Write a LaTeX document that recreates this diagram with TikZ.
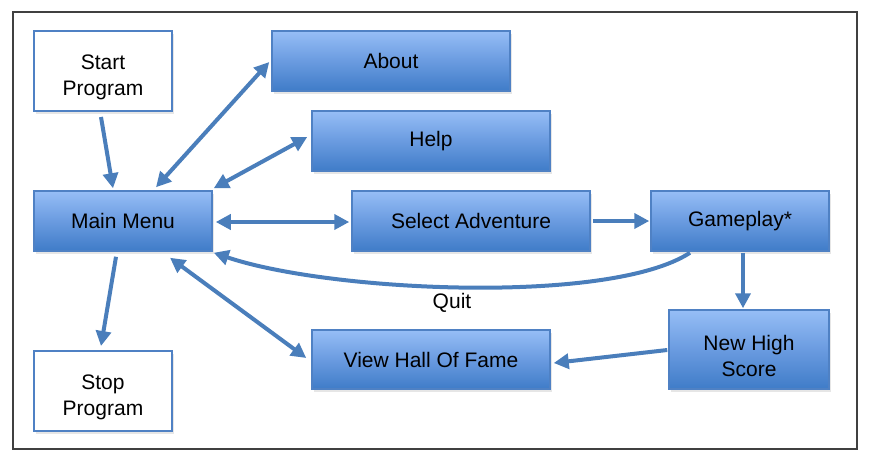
\documentclass[tikz,border=0pt]{standalone}
\usepackage{fontspec}
\setmainfont{Liberation Sans}
\usetikzlibrary{shadows,arrows.meta,calc}
\definecolor{arrowblue}{HTML}{4A7EBB}
\definecolor{boxline}{HTML}{4F81C4}
\definecolor{boxtop}{HTML}{96BEF6}
\definecolor{boxmid}{HTML}{6A9BE0}
\definecolor{boxbot}{HTML}{3F7CC8}
\tikzset{
  x=1pt, y=-1pt,
  every node/.style={font=\fontsize{21}{26}\selectfont, align=center, inner sep=0pt},
  bluebox/.style={draw=boxline, line width=1.5pt, top color=boxtop, bottom color=boxbot, middle color=boxmid,
     drop shadow={opacity=0.2, shadow xshift=2pt, shadow yshift=-3pt}},
  whitebox/.style={draw=boxline, line width=2pt, fill=white,
     drop shadow={opacity=0.2, shadow xshift=2pt, shadow yshift=-3pt}},
  twoline/.style={label={[align=center, yshift=-6pt, font=\fontsize{21}{26}\selectfont]center:#1}},
  arr/.style={draw=arrowblue, line width=4pt, -{Triangle[length=15pt,width=15pt]}},
  darr/.style={draw=arrowblue, line width=4pt, {Triangle[length=15pt,width=15pt]}-{Triangle[length=15pt,width=15pt]}},
}
\begin{document}
\begin{tikzpicture}
\useasboundingbox (0,0) rectangle (875,463);
\draw[line width=1.3pt, draw=black!75] (13,12) rectangle (857,449);

\node[whitebox, minimum width=138pt, minimum height=80pt, twoline={Start\\Program}] (start) at (103,71) {};
\node[bluebox, minimum width=238pt, minimum height=60pt] (about) at (391,61) {About};
\node[bluebox, minimum width=238pt, minimum height=60pt] (help) at (431,141) {Help};
\node[bluebox, minimum width=178pt, minimum height=60pt] (main) at (123,221) {Main Menu};
\node[bluebox, minimum width=238pt, minimum height=60pt] (select) at (471,221) {Select Adventure};
\node[bluebox, minimum width=178pt, minimum height=60pt] (game) at (740,221) {Gameplay*};
\node[bluebox, minimum width=160pt, minimum height=79pt, twoline={New High\\Score}] (nhs) at (749,349.5) {};
\node[bluebox, minimum width=238pt, minimum height=59pt] (vhof) at (431,359.5) {View Hall Of Fame};
\node[whitebox, minimum width=138pt, minimum height=80pt, twoline={Stop\\Program}] (stop) at (103,391) {};
\node (quit) at (452,303) {Quit};

\draw[arr] ([xshift=-2pt,yshift=-5pt]start.south) -- ([xshift=-10pt,yshift=2pt]main.north);
\draw[darr] ([xshift=33pt,yshift=3pt]main.north) -- ([xshift=-2pt,yshift=-1pt]about.west);
\draw[darr] ([xshift=1pt,yshift=2pt]main.north east) -- ([xshift=-4pt,yshift=4pt]help.west);
\draw[darr] ([xshift=3pt,yshift=-1pt]main.east) -- ([xshift=-2pt,yshift=-1pt]select.west);
\draw[arr] ([xshift=2pt]select.east) -- ([xshift=-1pt]game.west);
\draw[arr] ([xshift=3pt,yshift=-1pt]game.south) -- ([xshift=-6pt,yshift=1pt]nhs.north);
\draw[arr] ([xshift=-1pt,yshift=-0.5pt]nhs.west) -- ([xshift=3pt,yshift=-3.5pt]vhof.east);
\draw[arr] ([xshift=-50pt,yshift=-1pt]game.south) .. controls (610,305) and (330,292) .. ([xshift=1pt,yshift=-1pt]main.south east);
\draw[darr] ([xshift=47pt,yshift=-6pt]main.south) -- ([xshift=-5pt,yshift=1.5pt]vhof.west);
\draw[arr] ([xshift=-7pt,yshift=-5pt]main.south) -- ([xshift=-2pt,yshift=4pt]stop.north);
\end{tikzpicture}
\end{document}
